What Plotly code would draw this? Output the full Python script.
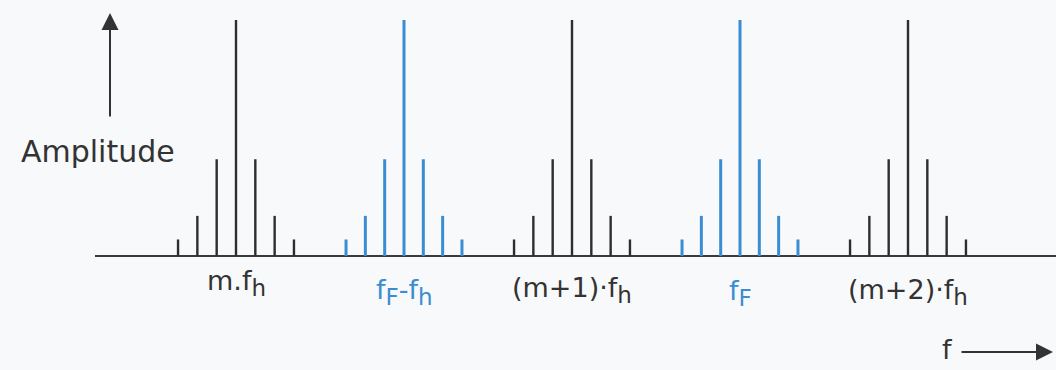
import plotly.graph_objects as go

# ---- data ----
group_centers = [1, 2, 3, 4, 5]
group_main = ["m.f", "f", "(m+1)·f", "f", "(m+2)·f"]
group_tail = [["h"], ["F", "-f", "h"], ["h"], ["F"], ["h"]]
group_kind = ["harmonic", "signal", "harmonic", "signal", "harmonic"]
sideband_order = [-3, -2, -1, 0, 1, 2, 3]
sideband_amplitude = [0.07, 0.17, 0.41, 1.0, 0.41, 0.17, 0.07]
sideband_spacing = 0.115

# ---- styling ----
W, H = 1056, 370
COLORS = {"harmonic": "#2e2e2e", "signal": "#3a8dd3"}
WIDTHS = {"harmonic": 2.4, "signal": 3.0}
TEXT = "#333333"
FONT = "DejaVu Sans"
LABEL_Y_PX = [283, 292, 290, 293, 292]
SUB_PX = 23

# pixel <-> data mapping (full-frame plot area)
X0, X1 = -236 / 168 + 1, 1 + (W - 236) / 168
Y0, Y1 = -(H - 256) / 236, 256 / 236


def px2x(px):
    return X0 + px / W * (X1 - X0)


def px2y(py):
    return Y1 - py / H * (Y1 - Y0)


def sub(s):
    return f'<sub><span style="font-size:{SUB_PX}px">{s}</span></sub>'


def build_label(main, tail):
    out = main
    for i, t in enumerate(tail):
        out += sub(t) if i % 2 == 0 else t
    return out


fig = go.Figure()

for kind in ["harmonic", "signal"]:
    xs, ys = [], []
    for c, k in zip(group_centers, group_kind):
        if k != kind:
            continue
        for o, a in zip(sideband_order, sideband_amplitude):
            x = c + o * sideband_spacing
            xs += [x, x, None]
            ys += [0, a, None]
    fig.add_trace(go.Scatter(x=xs, y=ys, mode="lines",
                             line=dict(color=COLORS[kind], width=WIDTHS[kind]),
                             hoverinfo="skip", showlegend=False))

# baseline
fig.add_shape(type="line", x0=px2x(95), x1=px2x(W), y0=0, y1=0,
              line=dict(color="#3a3a3a", width=2), layer="below")

# group labels
for c, m, t, k, ly in zip(group_centers, group_main, group_tail, group_kind, LABEL_Y_PX):
    fig.add_annotation(x=c, y=px2y(ly), text=build_label(m, t), showarrow=False,
                       xanchor="center", yanchor="middle",
                       font=dict(family=FONT, size=27,
                                 color=COLORS["signal"] if k == "signal" else TEXT))

# amplitude axis arrow + label
fig.add_annotation(x=px2x(110), y=px2y(13), ax=px2x(110), ay=px2y(118),
                   xref="x", yref="y", axref="x", ayref="y", text="",
                   showarrow=True, arrowhead=2, arrowsize=1.7, arrowwidth=2,
                   arrowcolor="#333333")
fig.add_annotation(x=px2x(98), y=px2y(151), text="Amplitude", showarrow=False,
                   xanchor="center", yanchor="middle",
                   font=dict(family=FONT, size=30, color=TEXT))

# frequency arrow + label
fig.add_annotation(x=px2x(1053), y=px2y(352), ax=px2x(960), ay=px2y(352),
                   xref="x", yref="y", axref="x", ayref="y", text="",
                   showarrow=True, arrowhead=2, arrowsize=1.7, arrowwidth=2,
                   arrowcolor="#333333")
fig.add_annotation(x=px2x(947), y=px2y(349), text="f", showarrow=False,
                   xanchor="center", yanchor="middle",
                   font=dict(family=FONT, size=27, color=TEXT))

fig.update_layout(
    width=W, height=H,
    margin=dict(l=0, r=0, t=0, b=0),
    paper_bgcolor="#f8f9fa", plot_bgcolor="#f8f9fa",
    xaxis=dict(range=[X0, X1], visible=False, fixedrange=True),
    yaxis=dict(range=[Y0, Y1], visible=False, fixedrange=True),
    showlegend=False,
)

fig.write_html("out.html")
